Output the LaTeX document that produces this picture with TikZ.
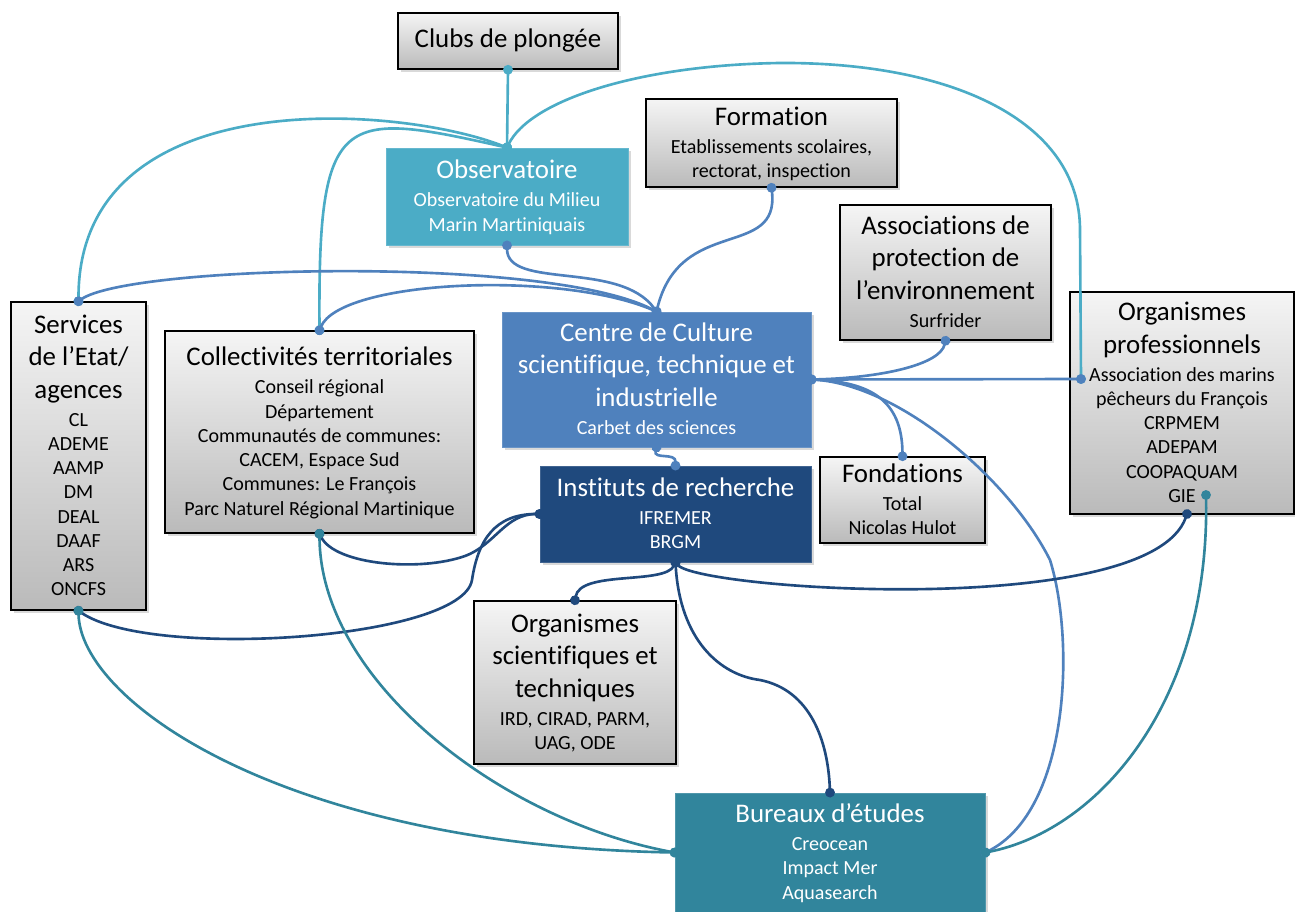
\documentclass[tikz,border=0pt]{standalone}
\usepackage{fontspec}
\setmainfont{Carlito}[Ligatures={TeX,NoCommon}]
\usepackage{tikz}
\usetikzlibrary{calc,shadows,arrows.meta}
\definecolor{obsblue}{HTML}{4BACC6}
\definecolor{ccsblue}{HTML}{4F81BD}
\definecolor{instblue}{HTML}{1F497D}
\definecolor{betblue}{HTML}{31859C}
\def\boxttl{\fontsize{15.3}{0}\selectfont\rule[-5.5pt]{0pt}{18.5pt}}
\def\boxsub{\fontsize{11.4}{0}\selectfont\rule[-3.4pt]{0pt}{13.8pt}}
\tikzset{
	boxbase/.style={align=center, inner sep=0pt, font={\baselineskip=0pt\lineskip=0pt\lineskiplimit=0pt}, drop shadow={shadow xshift=1.5pt, shadow yshift=-1.5pt, opacity=0.3}},
	actor/.style={boxbase, draw=black, line width=0.9pt, top color=black!4, bottom color=black!27},
	hub/.style={boxbase, fill=#1, draw=#1!85!white, line width=0.5pt, text=white},
	link/.style={draw=#1, line width=1.5pt, arrows={Circle[length=5.5pt]-Circle[length=5.5pt]}, shorten <=-2.75pt, shorten >=-2.75pt}
}

\begin{document}
\begin{tikzpicture}[x=0.02cm, y=-0.02cm]
		%%%%% START %%%%%
		\useasboundingbox (0, 0) rectangle (1295, 912);
		
		\node[actor, minimum width=4.4cm, minimum height=1.12cm] (clubs) at (508, 41) {\boxttl Clubs de plongée};
		\node[hub=obsblue, minimum width=4.84cm, minimum height=1.94cm] (obs) at (507, 196.5) {\boxttl Observatoire\\ \boxsub Observatoire du Milieu\\ \boxsub Marin Martiniquais};
		\node[actor, minimum width=5.02cm, minimum height=1.76cm] (form) at (771.5, 143) {\boxttl Formation\\ \boxsub Etablissements scolaires,\\ \boxsub rectorat, inspection};
		\node[actor, minimum width=4.22cm, minimum height=2.7cm] (assoc) at (945.5, 272.5) {\boxttl Associations de\\ \boxttl protection de\\ \boxttl l’environnement\\ \boxsub Surfrider};
		\node[actor, minimum width=2.7cm, minimum height=6.16cm] (serv) at (78.5, 456) {\boxttl Services\\ \boxttl de l’Etat/\\ \boxttl agences\\ \boxsub CL\\ \boxsub ADEME\\ \boxsub AAMP\\ \boxsub DM\\ \boxsub DEAL\\ \boxsub DAAF\\ \boxsub ARS\\ \boxsub ONCFS};
		\node[actor, minimum width=6.18cm, minimum height=4.04cm] (coll) at (319.5, 432) {\boxttl Collectivités territoriales\\ \boxsub Conseil régional\\ \boxsub Département\\ \boxsub Communautés de communes:\\ \boxsub CACEM, Espace Sud\\ \boxsub Communes: Le François\\ \boxsub Parc Naturel Régional Martinique};
		\node[hub=ccsblue, minimum width=6.18cm, minimum height=2.7cm] (ccsti) at (656.5, 379.5) {\boxttl Centre de Culture\\ \boxttl scientifique, technique et\\ \boxttl industrielle\\ \boxsub Carbet des sciences};
		\node[actor, minimum width=4.48cm, minimum height=4.44cm] (orgpro) at (1182, 403) {\boxttl Organismes\\ \boxttl professionnels\\ \boxsub Association des marins\\ \boxsub pêcheurs du François\\ \boxsub CRPMEM\\ \boxsub ADEPAM\\ \boxsub COOPAQUAM\\ \boxsub GIE};
		\node[actor, minimum width=3.3cm, minimum height=1.72cm] (fond) at (902.5, 500) {\boxttl Fondations\\ \boxsub Total\\ \boxsub Nicolas Hulot};
		\node[hub=instblue, minimum width=5.42cm, minimum height=1.92cm] (inst) at (675.5, 514) {\boxttl Instituts de recherche\\ \boxsub IFREMER\\ \boxsub BRGM};
		\node[actor, minimum width=4.04cm, minimum height=3.26cm] (orgsci) at (575, 682.5) {\boxttl Organismes\\ \boxttl scientifiques et\\ \boxttl techniques\\ \boxsub IRD, CIRAD, PARM,\\ \boxsub UAG, ODE};
		\node[hub=betblue, minimum width=6.2cm, minimum height=2.38cm] (bet) at (830, 852.5) {\boxttl Bureaux d’études\\ \boxsub Creocean\\ \boxsub Impact Mer\\ \boxsub Aquasearch};
		
		\coordinate (orgpin) at (1081, 379);
		\coordinate (giepin) at (1206, 495);
		\coordinate (orgfoot) at (1187, 514);
		
		% observatoire
		\draw[link=obsblue] (clubs.south) -- (obs.north);
		\draw[link=obsblue] (obs.north) .. controls (400, 105) and (78, 80) .. (serv.north);
		\draw[link=obsblue] (obs.north) .. controls (340, 110) and (318, 110) .. (coll.north);
		\draw[link=obsblue] (obs.north) .. controls (530, 100) and (640, 65) .. (780, 63) .. controls (950, 62) and (1080, 120) .. (1080, 230) -- (orgpin);
		
		% centre de culture
		\draw[link=ccsblue] (obs.south) .. controls (507, 290) and (620, 260) .. (ccsti.north);
		\draw[link=ccsblue] (form.south) .. controls (780, 260) and (680, 215) .. (ccsti.north);
		\draw[link=ccsblue] (serv.north) .. controls (130, 265) and (550, 255) .. (ccsti.north);
		\draw[link=ccsblue] (coll.north) .. controls (340, 280) and (560, 270) .. (ccsti.north);
		\draw[link=ccsblue] (ccsti.east) .. controls (880, 378) and (940, 365) .. (assoc.south);
		\draw[link=ccsblue] (ccsti.east) -- (orgpin);
		\draw[link=ccsblue] (ccsti.east) .. controls (870, 382) and (902, 400) .. (fond.north);
		\draw[link=ccsblue] (ccsti.east) .. controls (900, 385) and (1010, 480) .. (1050, 560) .. controls (1075, 640) and (1070, 810) .. (bet.east);
		\draw[link=ccsblue] (ccsti.south) .. controls (653, 460) and (676, 452) .. (inst.north);
		
		% instituts
		\draw[link=instblue] (inst.west) .. controls (505, 514) and (495, 545) .. (465, 556) .. controls (420, 572) and (335, 565) .. (coll.south);
		\draw[link=instblue] (inst.west) .. controls (495, 514) and (478, 540) .. (472, 580) .. controls (462, 640) and (150, 660) .. (serv.south);
		\draw[link=instblue] (inst.south) .. controls (665, 585) and (580, 570) .. (orgsci.north);
		\draw[link=instblue] (inst.south) .. controls (680, 640) and (720, 675) .. (760, 680) .. controls (810, 690) and (828, 740) .. (bet.north);
		\draw[link=instblue] (inst.south) .. controls (700, 590) and (1150, 620) .. (orgfoot);
		
		% bureaux d'etudes
		\draw[link=betblue] (serv.south) .. controls (80, 700) and (280, 845) .. (bet.west);
		\draw[link=betblue] (coll.south) .. controls (320, 680) and (500, 820) .. (bet.west);
		\draw[link=betblue] (bet.east) .. controls (1100, 830) and (1210, 700) .. (giepin);
		
		%%%%% END %%%%%
\end{tikzpicture}
\end{document}
